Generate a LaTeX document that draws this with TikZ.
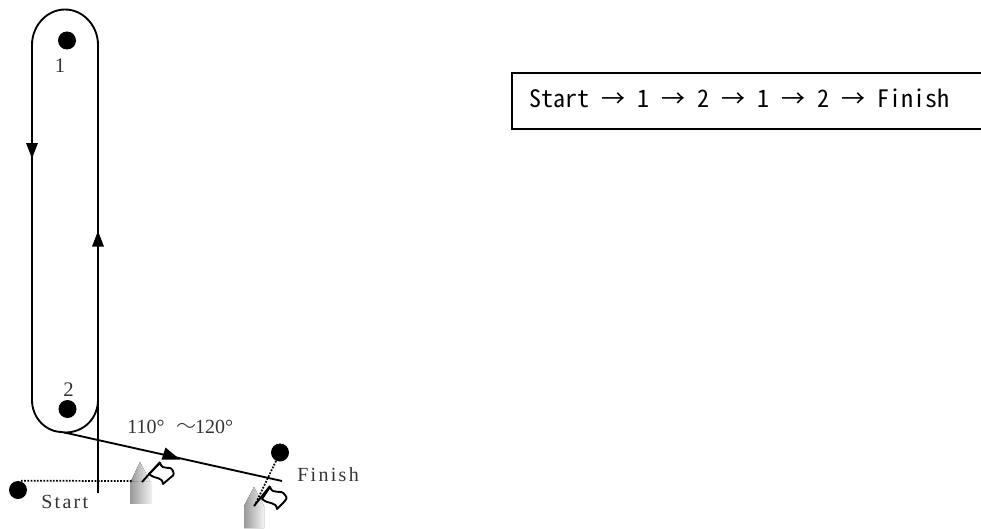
\documentclass[tikz,border=0pt]{standalone}
\usepackage{fontspec}
\setmainfont{Liberation Serif}
\newfontfamily\gothic[RawFeature=+hwid]{Noto Sans CJK JP}
\newfontfamily\mincho[LetterSpace=11.5]{Liberation Serif}
\newfontfamily\plainserif{Liberation Serif}
\newfontfamily\wavefont{Noto Sans CJK JP Light}
\usetikzlibrary{calc}
\tikzset{
  ln/.style={draw=black,line width=1.4pt},
  dot/.style={circle,fill=black,inner sep=0pt,minimum size=13.5pt},
  head/.style={fill=black,draw=none},
  dots/.style={draw=black,line width=1.3pt,dash pattern=on 1.3pt off 1.1pt},
  flag/.style={draw=black,line width=1.4pt,fill=white,line join=round},
  lab/.style={inner sep=0pt,anchor=base west,font=\mincho\fontsize{15}{15}\selectfont,text=black!80},
  numlab/.style={inner sep=0pt,anchor=base,font=\plainserif\fontsize{15.5}{15.5}\selectfont,text=black!80},
  tower/.style={left color=black!40,right color=black!5,draw=none},
}
\begin{document}
\begin{tikzpicture}[x=0.75pt,y=-0.75pt]
\useasboundingbox (0,0) rectangle (981,528);
% racetrack
\coordinate (lt) at (32,45);
\coordinate (rt) at (98,45);
\coordinate (lb) at (32,400);
\coordinate (rb) at (98,493);
\coordinate (bt) at (62,432);
\coordinate (fe) at (282,481);
\draw[ln] (rb) -- (rt) .. controls (98,25.5) and (83,9.5) .. (65,9.5) .. controls (47,9.5) and (32,25.5) .. (lt) -- (lb)
  .. controls (32,418) and (46,432) .. (bt) -- (fe);
\draw[ln] (98,400) .. controls (98,418) and (84,433) .. (64,432.5);
% arrowheads
\fill[head] (26,143) -- (38,143) -- (32,158.5) -- cycle;
\fill[head] (92,246.5) -- (104,246.5) -- (98,231) -- cycle;
\fill[head] (165.5,447.5) -- (180,459.5) -- (161.5,459.5) -- cycle;
% dots
\node[dot] (d1) at (67,40.5) {};
\node[dot] (d2) at (67.5,409) {};
\node[dot] (ds) at (18,490) {};
\node[dot] (df) at (280,452.5) {};
% towers
\fill[tower] (130,481) rectangle (152,503);
\fill[tower] (131,481) -- (140,462) -- (150,481) -- cycle;
\fill[tower] (244,528) -- (244,506) -- (254,487) -- (264,506) -- (264,528) -- cycle;
% dotted
\coordinate (se) at (133,481);
\coordinate (fp) at (254,507);
\draw[dots] (ds.north) ++(3,0) -- (se);
\draw[dots] (df) -- (fp);
% flags
\coordinate (p1b) at (142,482);
\coordinate (p1t) at (160,462);
\coordinate (p2b) at (254,506);
\coordinate (p2t) at (270,486);
\draw[flag] (160,463) .. controls (163,472) and (170,464) .. (173,471) .. controls (175,475) and (172,477) .. (170,478) -- (163,484) .. controls (162,476) and (156,480) .. (149,474) -- cycle;
\draw[ln] (p1b) -- (p1t);
\draw[flag] (270,487) .. controls (273,496) and (281,488) .. (285,495) .. controls (288,498) and (286,500) .. (284,502) -- (277,509) .. controls (276,501) and (269,505) .. (262,499) -- cycle;
\draw[ln] (p2b) -- (p2t);
% labels
\node[numlab] (n1) at (60,73) {1};
\node[numlab] (n2) at (68.5,396) {2};
\node[lab] (tstart) at (41,508) {Start};
\node[lab] (tfin) at (297,481.5) {Finish};
\node[inner sep=0pt,anchor=base west,font=\plainserif\fontsize{15}{15}\selectfont,text=black!80] (deg) at (127,433) {110°\hspace{9pt}{\wavefont ～}\hspace{-1pt}120°};
% box
\node[draw=black,line width=1.1pt,minimum width=470*0.75pt,minimum height=56*0.75pt,anchor=north west,inner sep=0pt,outer sep=0pt] (box) at (512,73) {};
\node[inner sep=0pt,anchor=base west,font=\gothic\fontsize{18}{18}\selectfont] (seq) at (529,108) {Start → 1 → 2 → 1 → 2 → Finish};
\end{tikzpicture}
\end{document}
